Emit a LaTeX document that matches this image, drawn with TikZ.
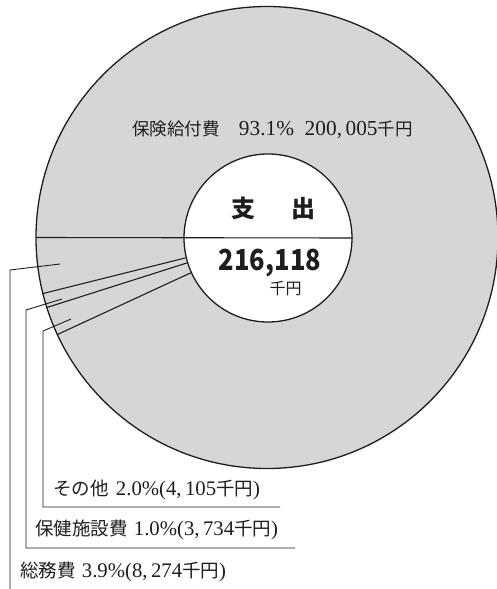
\documentclass[tikz,border=0pt]{standalone}
\usepackage{fontspec}
\setmainfont{Liberation Serif}[Scale=1.22]
\newfontfamily\cjk{Noto Sans CJK JP}
\usetikzlibrary{calc}
\definecolor{piegray}{RGB}{214,214,214}
\definecolor{ink}{RGB}{30,30,30}
\newcommand{\jp}[1]{{\fontsize{18.5}{18.5}\selectfont\cjk #1}}
\begin{document}
\begin{tikzpicture}[x=1pt,y=-1pt,
  pieline/.style={draw=ink, line width=1.3pt},
  segline/.style={draw=ink, line width=1.1pt},
  leader/.style={draw=ink, line width=0.9pt},
  lab/.style={inner sep=0pt, text=ink, font=\fontsize{17}{17}\selectfont},
  mainlab/.style={inner sep=0pt, text=ink, font=\fontsize{17.5}{17.5}\selectfont},
]
\useasboundingbox (0,0) rectangle (497,589);
\fill[white] (0,0) rectangle (497,589);
\coordinate (c) at (267,237.5);
% pie
\path[pieline, fill=piegray] (c) circle[radius=231pt];
% slice boundaries
\draw[segline] ($(c)+(-194.04:84)$) -- ($(c)+(-194.04:231)$);
\draw[segline] ($(c)+(-197.64:84)$) -- ($(c)+(-197.64:231)$);
\draw[segline] ($(c)+(-204.84:84)$) -- ($(c)+(-204.84:231)$);
% inner circle
\node[circle, draw=ink, line width=1.3pt, fill=white, minimum size=168pt, inner sep=0pt] (inner) at (268,238) {};
\draw[segline] ($(c)+(180:231)$) -- (inner.east);
% centre texts
\node[inner sep=0pt, text=ink, font=\fontsize{24}{24}\selectfont\cjk\bfseries] (t1) at (273,208) {支\hspace{1.5em}出};
\node[inner sep=0pt, text=ink, xscale=0.88, font=\fontsize{29}{29}\selectfont\cjk\bfseries] (t2) at (270,263) {216,118};
\node[inner sep=0pt, text=ink, font=\fontsize{16}{16}\selectfont\cjk] (t3) at (285.5,289) {千円};
% main label
\node[mainlab, anchor=west] (main) at (132,130) {{\cjk 保険給付費}\hspace{0.9em}93.1\%\hspace{0.5em}200,\,005{\cjk 千円}};
% leaders
\coordinate (s1) at (60,264);
\coordinate (k1) at (10,270);
\coordinate (e1) at (10,589);
\draw[leader] (s1) -- (k1) -- (e1);
\coordinate (s2) at (62,299);
\coordinate (k2) at (26,310);
\coordinate (b2) at (26,548);
\coordinate (e2) at (295,548);
\draw[leader] (s2) -- (k2) -- (b2) -- (e2);
\coordinate (s3) at (71,319);
\coordinate (k3) at (43,331);
\coordinate (b3) at (43,507);
\coordinate (e3) at (280,507);
\draw[leader] (s3) -- (k3) -- (b3) -- (e3);
% labels
\node[lab, anchor=west] (l3) at (53,490) {\jp{その他}\hspace{0.35em}2.0\%(4,\,105\jp{千円})};
\node[lab, anchor=west] (l2) at (35,530) {\jp{保健施設費}\hspace{0.3em}1.0\%(3,\,734\jp{千円})};
\node[lab, anchor=west] (l1) at (20,572) {\jp{総務費}\hspace{0.3em}3.9\%(8,\,274\jp{千円})};
\end{tikzpicture}
\end{document}
